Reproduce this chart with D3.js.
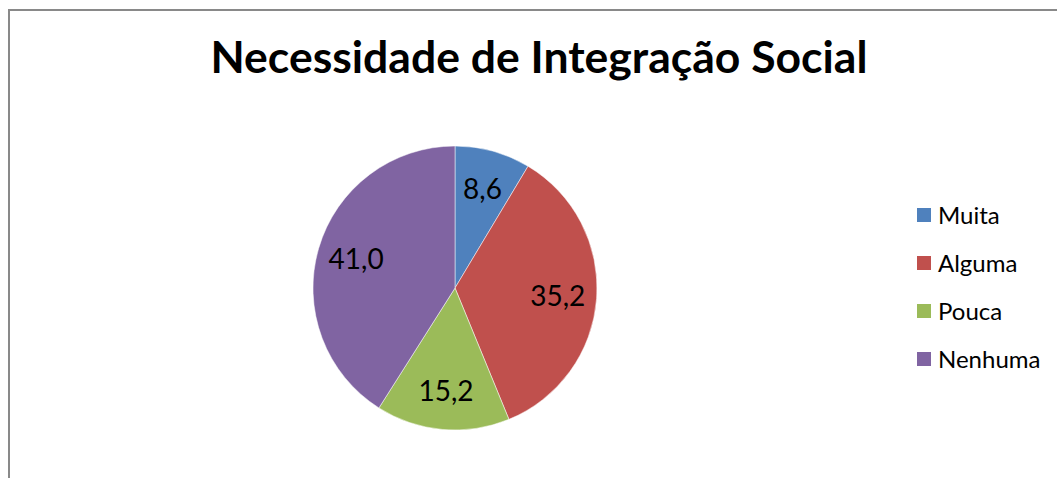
<!DOCTYPE html>
<html>
<head>
<meta charset="utf-8">
<script src="https://cdn.jsdelivr.net/npm/d3@7"></script>
<style>
  html, body { margin: 0; padding: 0; background: #ffffff; }
  svg { display: block; }
</style>
</head>
<body>
<script>
// chart data
const categories = ["Muita", "Alguma", "Pouca", "Nenhuma"];
const values = [8.6, 35.2, 15.2, 41.0];
const labels = ["8,6", "35,2", "15,2", "41,0"];
const colours = ["#4f81bd", "#c0504d", "#9bbb59", "#8064a2"];

const W = 1057, H = 478;

const svg = d3.select("body").append("svg")
  .attr("width", W)
  .attr("height", H);

// chart frame (runs off the right and bottom edge)
svg.append("rect")
  .attr("x", 9)
  .attr("y", 10)
  .attr("width", W + 20)
  .attr("height", H + 20)
  .attr("fill", "#ffffff")
  .attr("stroke", "#898989")
  .attr("stroke-width", 2);

// title
svg.append("text")
  .attr("x", 539)
  .attr("y", 73)
  .attr("text-anchor", "middle")
  .attr("font-family", "Lato, 'Open Sans', sans-serif")
  .attr("font-weight", "bold")
  .attr("font-size", 44.5)
  .attr("fill", "#000000")
  .text("Necessidade de Integração Social");

// pie
const cx = 455, cy = 288, r = 142;
const pie = d3.pie().sort(null).value(d => d)(values);
const arc = d3.arc().innerRadius(0).outerRadius(r);
const labelArc = d3.arc().innerRadius(103).outerRadius(103);

const g = svg.append("g").attr("transform", `translate(${cx},${cy})`);

g.selectAll("path.slice")
  .data(pie)
  .join("path")
  .attr("class", "slice")
  .attr("d", arc)
  .attr("fill", (d, i) => colours[i])
  .attr("stroke", "#ffffff")
  .attr("stroke-width", 0.5);

g.selectAll("text.lbl")
  .data(pie)
  .join("text")
  .attr("class", "lbl")
  .attr("transform", d => `translate(${labelArc.centroid(d)})`)
  .attr("text-anchor", "middle")
  .attr("dy", "0.36em")
  .attr("font-family", "Lato, 'Open Sans', sans-serif")
  .attr("font-size", 28)
  .attr("fill", "#000000")
  .text((d, i) => labels[i]);

// legend
const legY = d3.scalePoint().domain(categories).range([215, 359]);
const leg = svg.append("g");
const rows = leg.selectAll("g")
  .data(categories)
  .join("g")
  .attr("transform", d => `translate(917,${legY(d)})`);

rows.append("rect")
  .attr("x", 0)
  .attr("y", -7)
  .attr("width", 14)
  .attr("height", 14)
  .attr("fill", (d, i) => colours[i]);

rows.append("text")
  .attr("x", 21)
  .attr("y", 0)
  .attr("dy", "0.36em")
  .attr("font-family", "Lato, 'Open Sans', sans-serif")
  .attr("font-size", 24)
  .attr("fill", "#000000")
  .text(d => d);
</script>
</body>
</html>
